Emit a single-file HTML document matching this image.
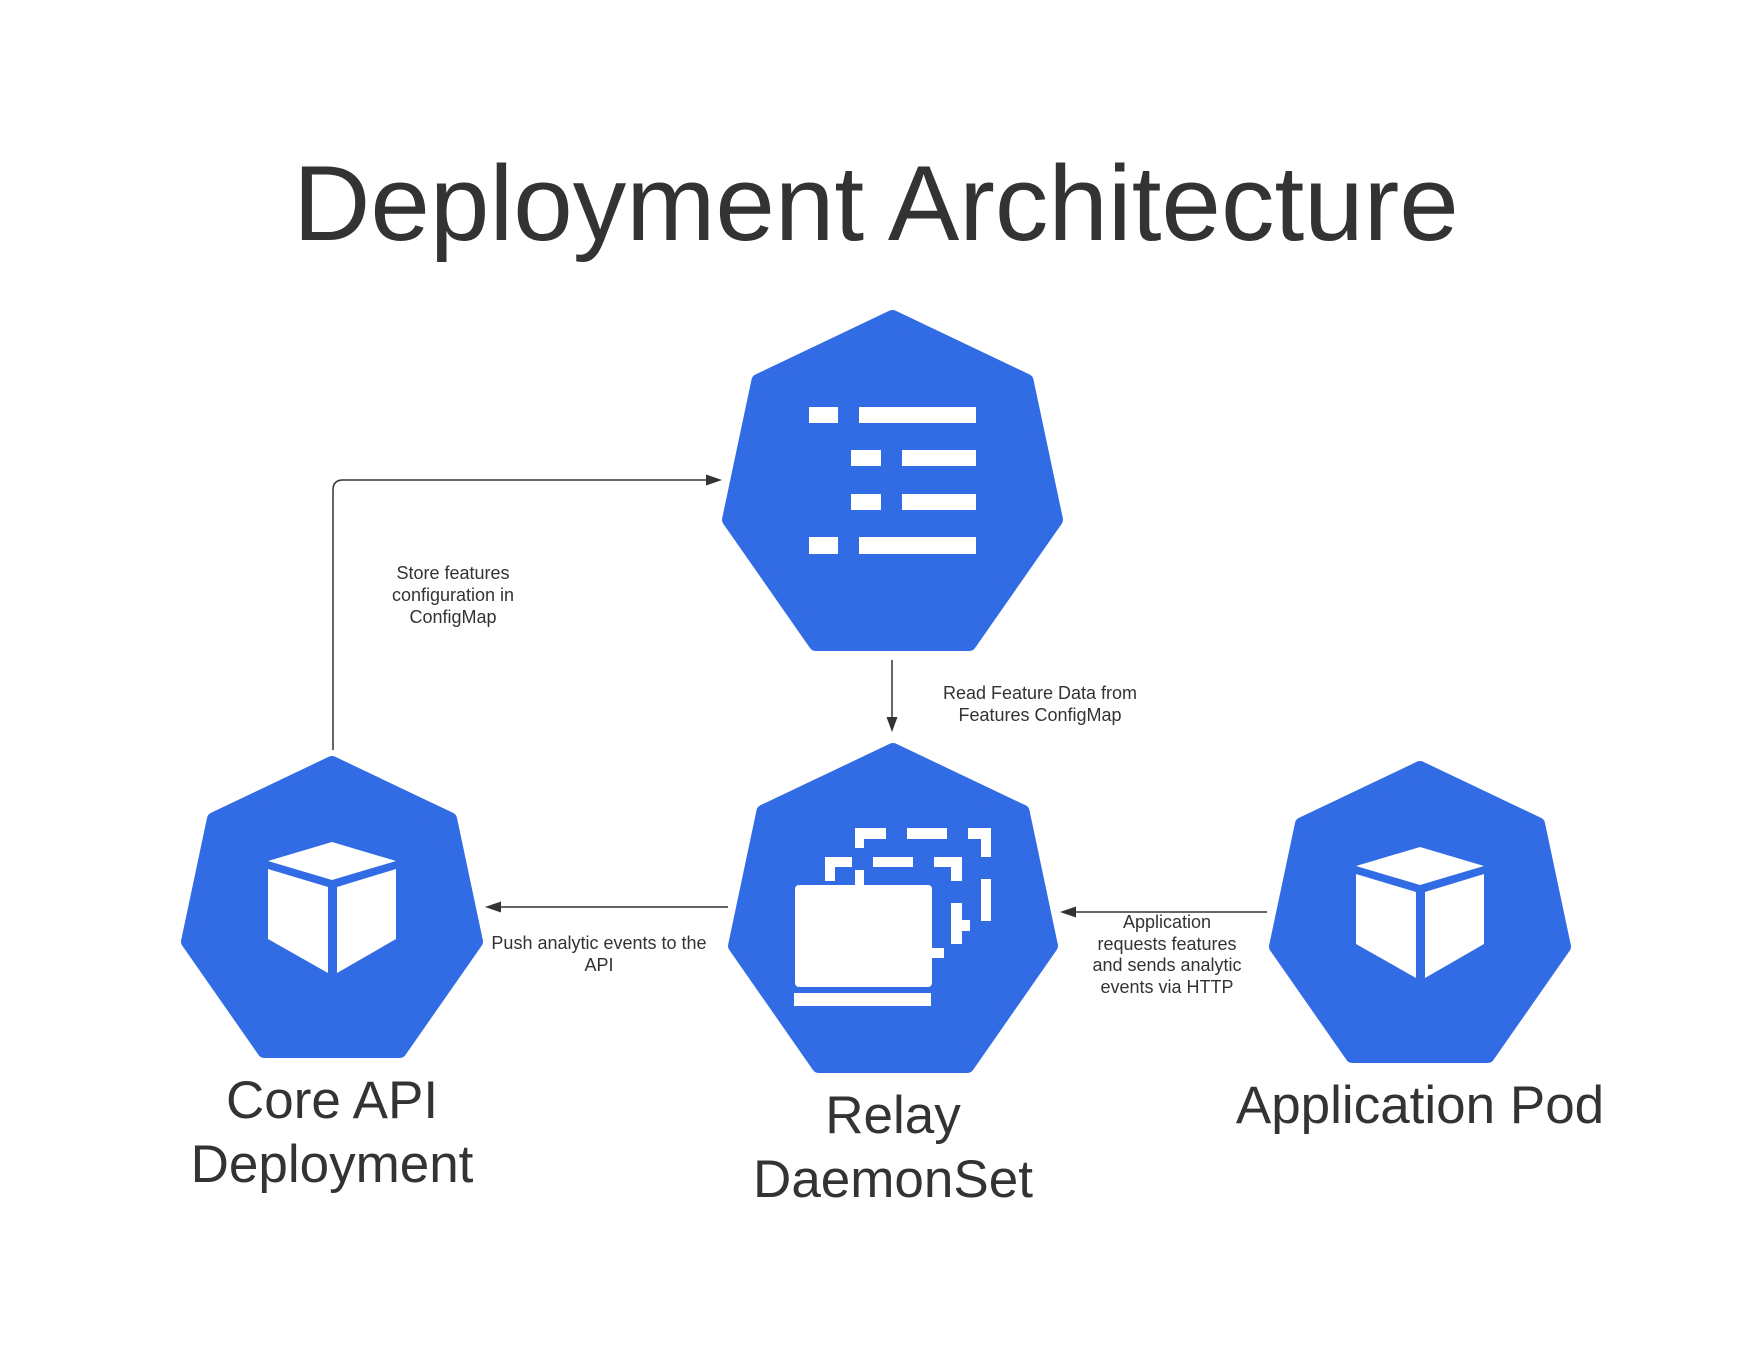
<!DOCTYPE html>
<html><head><meta charset="utf-8"><style>
html,body{margin:0;padding:0;background:#fff;}
svg{display:block;}
text{font-family:"Liberation Sans",Arial,sans-serif;fill:#333;}
</style></head><body>
<svg width="1760" height="1360" viewBox="0 0 1760 1360" xmlns="http://www.w3.org/2000/svg">
<rect width="1760" height="1360" fill="#fff"/>
<text x="876" y="240" font-size="107" text-anchor="middle">Deployment Architecture</text>

<g fill="#326ce5" stroke="#326ce5" stroke-width="14" stroke-linejoin="round">
<polygon points="892.5,317 1026.6,380.8 1056,519.7 969.3,644 815.7,644 729,519.7 758.4,380.8"/>
<polygon points="893,750 1022.6,811.6 1051,945.9 967.3,1066 818.7,1066 735,945.9 763.4,811.6"/>
<polygon points="332,763 450.1,819.2 476,941.6 399.7,1051 264.3,1051 188,941.6 213.9,819.2"/>
<polygon points="1420,768 1538.1,824.2 1564,946.6 1487.7,1056 1352.3,1056 1276,946.6 1301.9,824.2"/>
</g>

<g fill="#fff">
<rect x="809" y="407" width="29" height="16"/><rect x="859" y="407" width="117" height="16"/>
<rect x="851" y="450" width="30" height="16"/><rect x="902" y="450" width="74" height="16"/>
<rect x="851" y="494" width="30" height="16"/><rect x="902" y="494" width="74" height="16"/>
<rect x="809" y="537" width="29" height="17"/><rect x="859" y="537" width="117" height="17"/>
</g>

<g fill="#fff">
<rect x="795" y="885" width="137" height="102" rx="4"/>
<rect x="794" y="993" width="137" height="13"/>
<rect x="932" y="948" width="12" height="10"/>
<rect x="825" y="857" width="27" height="10"/><rect x="825" y="857" width="10" height="24"/>
<rect x="855" y="870" width="9" height="15"/>
<rect x="873" y="857" width="40" height="10"/>
<rect x="934" y="857" width="28" height="10"/><rect x="951" y="857" width="11" height="24"/>
<rect x="951" y="903" width="11" height="41"/><rect x="962" y="920" width="8" height="11"/>
<rect x="855" y="828" width="31" height="11"/><rect x="855" y="828" width="9" height="20"/>
<rect x="907" y="828" width="40" height="11"/>
<rect x="968" y="828" width="23" height="11"/><rect x="981" y="828" width="10" height="29"/>
<rect x="981" y="879" width="10" height="42"/>
</g>

<g fill="#fff">
<polygon points="332,842 396,861 332,880 268,861"/>
<polygon points="268,869 328,887 328,973 268,939"/>
<polygon points="337,887 396,869 396,939 337,973"/>
</g>
<g fill="#fff" transform="translate(1088,5)">
<polygon points="332,842 396,861 332,880 268,861"/>
<polygon points="268,869 328,887 328,973 268,939"/>
<polygon points="337,887 396,869 396,939 337,973"/>
</g>

<g stroke="#333" stroke-width="1.5" fill="none">
<path d="M333,750 V490 Q333,480 343,480 H710"/>
<path d="M892,660 V720"/>
<path d="M728,907 H498"/>
<path d="M1267,912 H1073"/>
</g>
<g fill="#333">
<polygon points="722,480 706,474.5 706,485.5"/>
<polygon points="892,732 886.5,717 897.5,717"/>
<polygon points="485,907 501,901.5 501,912.5"/>
<polygon points="1060,912 1076,906.5 1076,917.5"/>
</g>

<g font-size="18" text-anchor="middle">
<text x="453" y="579">Store features</text>
<text x="453" y="601">configuration in</text>
<text x="453" y="623">ConfigMap</text>
<text x="1040" y="699">Read Feature Data from</text>
<text x="1040" y="721">Features ConfigMap</text>
<text x="599" y="949">Push analytic events to the</text>
<text x="599" y="971">API</text>
<text x="1167" y="928">Application</text>
<text x="1167" y="950">requests features</text>
<text x="1167" y="971">and sends analytic</text>
<text x="1167" y="993">events via HTTP</text>
</g>

<g font-size="53" text-anchor="middle">
<text x="332" y="1118">Core API</text>
<text x="332" y="1182">Deployment</text>
<text x="893" y="1133">Relay</text>
<text x="893" y="1197">DaemonSet</text>
<text x="1420" y="1123">Application Pod</text>
</g>
</svg>
</body></html>
